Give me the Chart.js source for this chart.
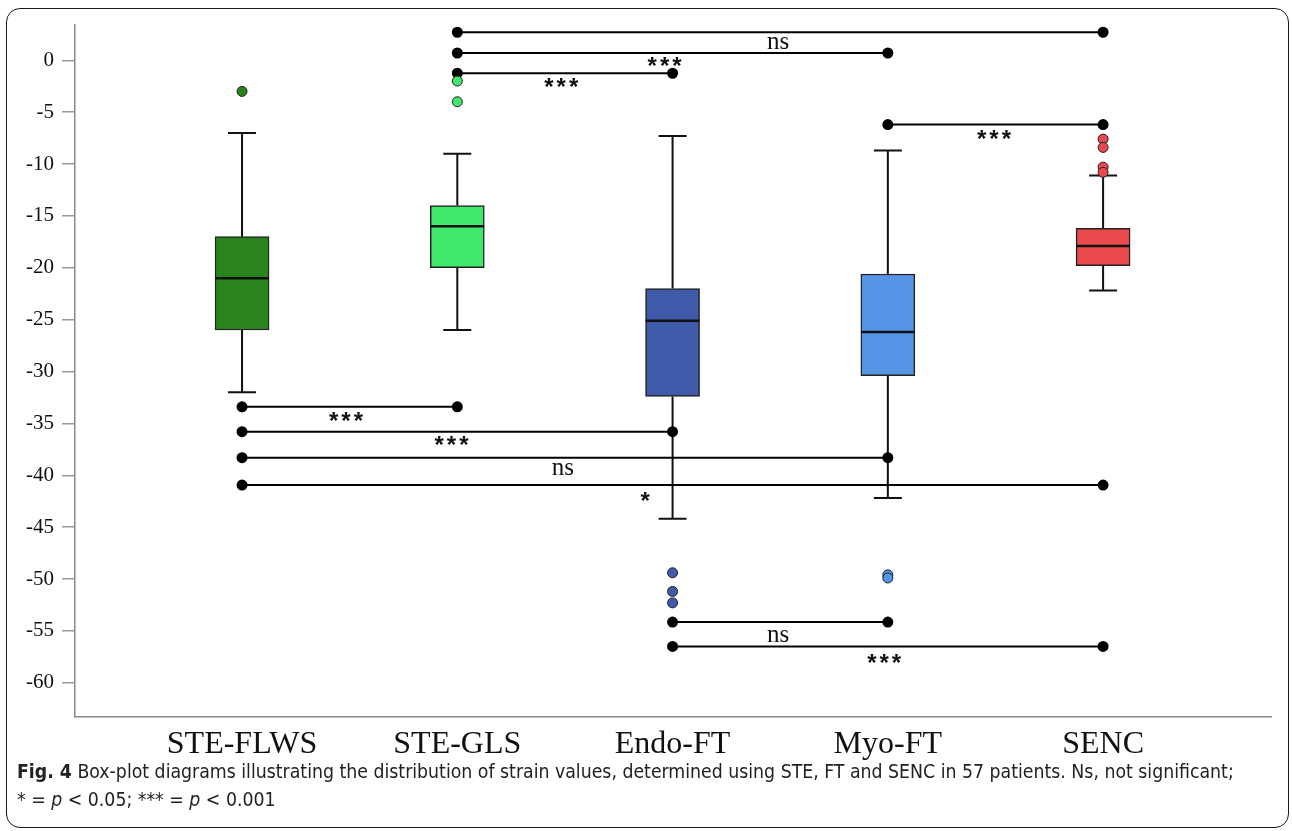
<!DOCTYPE html>
<html>
<head>
<meta charset="utf-8">
<script src="https://cdn.jsdelivr.net/npm/chart.js@4.4.1/dist/chart.umd.min.js"></script>
<style>
    html, body { margin: 0; padding: 0; background: #fff; }
    body { width: 1292px; height: 831px; position: relative; overflow: hidden; }
    .frame { position: absolute; left: 6px; top: 8px; width: 1281px; height: 818px; border: 1.5px solid #1a1a1a; border-radius: 14px; }
    #strainChart { position: absolute; left: 0; top: 0; }
    .caption { position: absolute; left: 17px; top: 758px; width: 1300px; font-family: "Liberation Sans Narrow", "DejaVu Sans Condensed", "Open Sans", sans-serif; font-size: 19.3px; line-height: 28px; color: #222; white-space: nowrap; }
</style>
</head>
<body>
<div class="frame"></div>
<canvas id="strainChart" width="1292" height="760"></canvas>
<div class="caption"><b>Fig. 4</b> Box-plot diagrams illustrating the distribution of strain values, determined using STE, FT and SENC in 57 patients. Ns, not significant;<br><i>*</i> = <i>p</i> &lt; 0.05; *** = <i>p</i> &lt; 0.001</div>

<script>
// groups on the x axis
const categories = ['STE-FLWS', 'STE-GLS', 'Endo-FT', 'Myo-FT', 'SENC'];

// box plot summary per group
const whiskerLow = [-32, -26, -44.2, -42.2, -22.2];
const q1 = [-26, -20, -32.4, -30.4, -19.8];
const median = [-21, -16, -25.1, -26.2, -17.9];
const q3 = [-17, -14, -22, -20.6, -16.2];
const whiskerHigh = [-7, -9, -7.3, -8.7, -11.1];
const outliers = [
    [-3],
    [-2, -4],
    [-49.4, -51.2, -52.3],
    [-49.6, -49.9],
    [-7.6, -8.4, -10.3, -10.8]
];

const yTicks = [0, -5, -10, -15, -20, -25, -30, -35, -40, -45, -50, -55, -60];

// pairwise comparisons (group index -> group index at a strain level)
const sigFrom = [1, 1, 1, 3, 0, 0, 0, 0, 2, 2];
const sigTo = [4, 3, 2, 4, 1, 2, 3, 4, 3, 4];
const sigLevel = [2.7, 0.7, -1.25, -6.2, -33.4, -35.8, -38.3, -40.95, -54.15, -56.5];

// significance marks and where they sit (group units, strain units)
const sigText = ['ns', '***', '***', '***', '***', '***', 'ns', '*', 'ns', '***'];
const sigTextX = [2.49, 1.97, 1.49, 3.5, 0.49, 0.98, 1.49, 1.88, 2.49, 2.99];
const sigTextY = [1.83, -0.19, -2.2, -7.2, -34.4, -36.7, -39.2, -42.1, -55.3, -57.7];

const boxColors = ['#2a841e', '#40e86e', '#3f5aa9', '#5595e6', '#ea4a4d'];

document.addEventListener('DOMContentLoaded', function() {
    const ctx = document.getElementById('strainChart').getContext('2d');
    const serif = '"Liberation Serif", "Times New Roman", serif';
    Chart.defaults.font.family = serif;

    // whiskers + caps under the boxes, medians on top
    const boxPlotPlugin = {
        id: 'boxPlot',
        beforeDatasetsDraw(chart) {
            const c = chart.ctx, x = chart.scales.x, y = chart.scales.y;
            c.save();
            c.strokeStyle = '#111';
            c.lineWidth = 2;
            categories.forEach((cat, i) => {
                const px = x.getPixelForValue(i);
                const capHalf = (x.getPixelForValue(i + 0.065) - px);
                c.beginPath();
                c.moveTo(px, y.getPixelForValue(whiskerHigh[i]));
                c.lineTo(px, y.getPixelForValue(q3[i]));
                c.moveTo(px, y.getPixelForValue(q1[i]));
                c.lineTo(px, y.getPixelForValue(whiskerLow[i]));
                c.moveTo(px - capHalf, y.getPixelForValue(whiskerHigh[i]));
                c.lineTo(px + capHalf, y.getPixelForValue(whiskerHigh[i]));
                c.moveTo(px - capHalf, y.getPixelForValue(whiskerLow[i]));
                c.lineTo(px + capHalf, y.getPixelForValue(whiskerLow[i]));
                c.stroke();
            });
            c.restore();
        },
        afterDatasetsDraw(chart) {
            const c = chart.ctx, x = chart.scales.x, y = chart.scales.y;
            c.save();
            c.strokeStyle = '#111';
            c.lineWidth = 2.5;
            categories.forEach((cat, i) => {
                const px = x.getPixelForValue(i);
                const half = (x.getPixelForValue(i + 0.125) - px);
                const py = y.getPixelForValue(median[i]);
                c.beginPath();
                c.moveTo(px - half, py);
                c.lineTo(px + half, py);
                c.stroke();
            });
            // significance marks
            c.fillStyle = '#111';
            c.textAlign = 'center';
            c.textBaseline = 'middle';
            sigText.forEach((t, i) => {
                const px = x.getPixelForValue(sigTextX[i]);
                const py = y.getPixelForValue(sigTextY[i]);
                if (t === 'ns') {
                    c.font = '25px ' + serif;
                    c.letterSpacing = '0px';
                    c.fillText(t, px, py + 1);
                } else {
                    c.font = 'bold 24px "Liberation Sans", sans-serif';
                    c.letterSpacing = '3px';
                    c.fillText(t, px, py + 5);
                }
            });
            c.restore();
        }
    };

    const datasets = [{
        type: 'bar',
        data: categories.map((c, i) => ({ x: i, y: [q1[i], q3[i]] })),
        backgroundColor: boxColors,
        borderColor: '#222',
        borderWidth: 1.5,
        borderSkipped: false,
        barThickness: 54,
        order: 3
    }];

    // outlier points
    outliers.forEach((vals, i) => {
        datasets.push({
            type: 'scatter',
            data: vals.map(v => ({ x: i, y: v })),
            pointRadius: 5,
            pointBackgroundColor: boxColors[i],
            pointBorderColor: '#222',
            pointBorderWidth: 1,
            order: 1
        });
    });

    // comparison lines
    sigLevel.forEach((lvl, i) => {
        datasets.push({
            type: 'line',
            data: [{ x: sigFrom[i], y: lvl }, { x: sigTo[i], y: lvl }],
            borderColor: '#000',
            borderWidth: 2,
            pointRadius: 4.5,
            pointBackgroundColor: '#000',
            pointBorderColor: '#000',
            fill: false,
            order: 2
        });
    });

    const strainChart = new Chart(ctx, {
        type: 'bar',
        data: { datasets: datasets },
        options: {
            responsive: false,
            animation: false,
            layout: {
                padding: { left: 0, right: 21, top: 25, bottom: 0 }
            },
            scales: {
                x: {
                    type: 'linear',
                    offset: false,
                    min: -0.776,
                    max: 4.78,
                    afterFit: s => { s.height = 43; },
                    afterBuildTicks: s => { s.ticks = categories.map((c, i) => ({ value: i })); },
                    grid: { drawOnChartArea: false, drawTicks: false, offset: false },
                    border: { display: true, color: '#8a8a8a', width: 1.5 },
                    ticks: {
                        padding: 8,
                        color: '#111',
                        maxRotation: 0,
                        font: { family: serif, size: 32 },
                        callback: v => categories[v]
                    }
                },
                y: {
                    type: 'linear',
                    min: -63.3,
                    max: 3.4,
                    afterFit: s => { s.width = 75; },
                    afterBuildTicks: s => { s.ticks = yTicks.map(v => ({ value: v })); },
                    grid: { drawOnChartArea: false, drawTicks: true, tickLength: 13, color: '#9a9a9a', lineWidth: 1.5 },
                    border: { display: true, color: '#8a8a8a', width: 1.5 },
                    ticks: {
                        padding: 8,
                        color: '#111',
                        font: { family: serif, size: 21 },
                        callback: v => String(v)
                    }
                }
            },
            plugins: {
                legend: { display: false },
                tooltip: { enabled: false }
            }
        },
        plugins: [boxPlotPlugin]
    });
});
</script>
</body>
</html>
